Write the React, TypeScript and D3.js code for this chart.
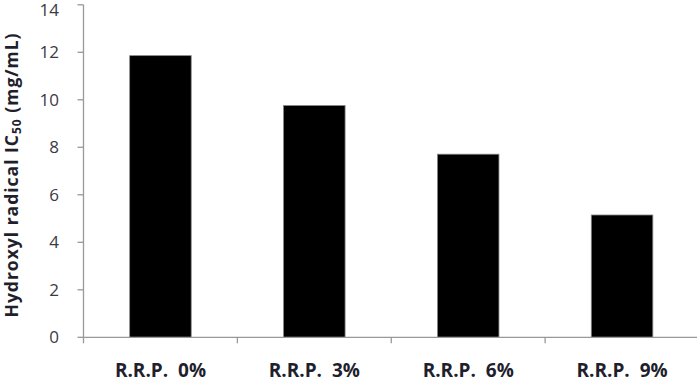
import React from "react";
import * as d3 from "d3";

const categories = ["R.R.P.  0%", "R.R.P.  3%", "R.R.P.  6%", "R.R.P.  9%"];
const values = [11.86, 9.76, 7.71, 5.15];
const yTicks = [0, 2, 4, 6, 8, 10, 12, 14];

const W = 697;
const H = 383;
const left = 83.5;
const right = 699;
const top = 4.8;
const bottom = 337.3;

export default function App() {
  const x = d3.scaleBand<string>().domain(categories).range([left, right]).paddingInner(0.6).paddingOuter(0.3);
  const xb = d3.scaleBand<string>().domain(categories).range([left, right]);
  const y = d3.scaleLinear().domain([0, 14]).range([bottom, top]);
  const font = "Open Sans, 'Liberation Sans', sans-serif";
  return (
    <svg width={W} height={H} style={{ position: "absolute", left: 0, top: 0, background: "#fff" }}>
      {categories.map((c, i) => (
        <rect key={c} x={x(c)} y={y(values[i])} width={x.bandwidth()} height={y(0) - y(values[i])}
          fill="#000" stroke="#888" strokeWidth={0.8} />
      ))}
      <line x1={left} x2={left} y1={top} y2={bottom} stroke="#999" strokeWidth={1.3} />
      <line x1={left} x2={right} y1={bottom} y2={bottom} stroke="#999" strokeWidth={1.3} />
      {yTicks.map((t) => (
        <g key={t}>
          <line x1={left - 6} x2={left} y1={y(t)} y2={y(t)} stroke="#999" strokeWidth={1.3} />
          <text x={59} y={Math.max(y(t), 10)} dy="0.36em" textAnchor="end" fontSize={17} fontFamily={font} fill="#3a3a44">{t}</text>
        </g>
      ))}
      {categories.map((c) => (
        <line key={"t" + c} x1={xb(c)} x2={xb(c)} y1={bottom} y2={bottom + 6} stroke="#999" strokeWidth={1.3} />
      ))}
      <line x1={right - 1} x2={right - 1} y1={bottom} y2={bottom + 6} stroke="#999" strokeWidth={1.3} />
      {categories.map((c) => (
        <text key={"l" + c} x={xb(c)! + xb.bandwidth() / 2} y={377} textAnchor="middle" fontSize={19}
          fontWeight="bold" fontFamily={font} fill="#1f1f2e" style={{ whiteSpace: "pre" }}>{c}</text>
      ))}
      <text transform={`translate(18,175) rotate(-90)`} textAnchor="middle" fontSize={17.5} fontWeight="bold"
        letterSpacing={1} fontFamily={font} fill="#1f1f2e">
        Hydroxyl radical IC<tspan fontSize={12} dy={3}>50</tspan><tspan dy={-3}> (mg/mL)</tspan>
      </text>
    </svg>
  );
}
